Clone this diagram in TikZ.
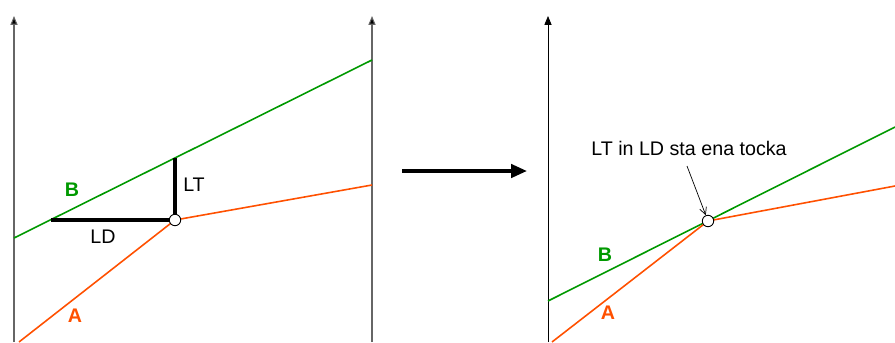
\documentclass[tikz,border=0pt]{standalone}
\usepackage{fontspec}
\setmainfont{Liberation Sans}
\usetikzlibrary{arrows.meta}
\definecolor{lineB}{RGB}{0,153,0}
\definecolor{lineA}{RGB}{255,80,0}

\begin{document}
\begin{tikzpicture}[x=0.02cm,y=0.02cm,font=\fontsize{11.2}{13}\selectfont,
  axis/.style={draw=black!60,line width=0.6pt,-{Triangle[length=5pt,width=4pt,fill=black]}},
  curveB/.style={draw=lineB,line width=0.9pt},
  curveA/.style={draw=lineA,line width=0.9pt},
  gap/.style={line width=2.2pt},
  point/.style={circle,draw,fill=white,line width=0.5pt,inner sep=0pt,minimum size=6.5pt}]
  \useasboundingbox (0,0) rectangle (895,342);
  % left panel
  \coordinate (L0) at (14,0);
  \coordinate (L1) at (14,326);
  \coordinate (R0) at (372,0);
  \coordinate (R1) at (372,326);
  \draw[axis] (L0) -- (L1);
  \draw[axis] (R0) -- (R1);
  \coordinate (b0) at (14,104);
  \coordinate (b1) at (372,282);
  \coordinate (a0) at (19,0);
  \coordinate (a1) at (372,157);
  \coordinate (ld) at (51,122);
  \coordinate (lt) at (175,184);
  \draw[curveB] (b0) -- (b1);
  \draw[curveA] (a0) -- (175,122) -- (a1);
  \draw[gap] (ld) -- (175,122) -- (lt);
  \node[point] (p) at (175,122) {};
  \node[text=lineB,font=\fontsize{11.2}{13}\selectfont\bfseries] (labB) at (72,152) {B};
  \node[text=lineA,font=\fontsize{11.2}{13}\selectfont\bfseries] (labA) at (75,26) {A};
  \node (labLT) at (194,157) {LT};
  \node (labLD) at (103,105) {LD};
  % middle arrow
  \coordinate (m0) at (402,171);
  \coordinate (m1) at (527,171);
  \draw[line width=2pt,-{Triangle[length=9pt,width=7.5pt]}] (m0) -- (m1);
  % right panel
  \coordinate (S0) at (548,0);
  \coordinate (S1) at (548,326);
  \draw[line width=0.45pt,-{Triangle[length=5pt,width=4pt]}] (S0) -- (S1);
  \coordinate (c0) at (548,41);
  \coordinate (c1) at (895,215);
  \coordinate (d0) at (552,0);
  \coordinate (d1) at (895,156);
  \draw[curveB] (c0) -- (c1);
  \draw[curveA] (d0) -- (708,121) -- (d1);
  \node[point] (q) at (708,121) {};
  \node[text=lineB,font=\fontsize{11.2}{13}\selectfont\bfseries] (labB2) at (605,87) {B};
  \node[text=lineA,font=\fontsize{11.2}{13}\selectfont\bfseries] (labA2) at (608,29) {A};
  \node (note) at (689,194) {LT in LD sta ena tocka};
  \coordinate (n0) at (687,176);
  \draw[line width=0.4pt,-{Straight Barb[length=4pt,width=4pt]}] (n0) -- (q);
\end{tikzpicture}
\end{document}
